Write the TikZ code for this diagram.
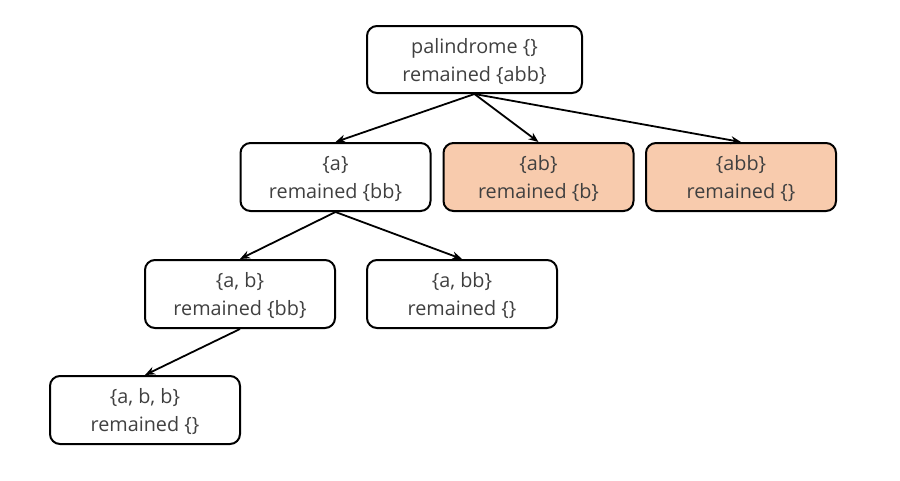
\documentclass[tikz,border=0pt]{standalone}
\usepackage{fontspec}
\setmainfont{Open Sans}
\usetikzlibrary{arrows.meta}
\definecolor{txtgray}{HTML}{404040}
\definecolor{hitfill}{HTML}{F8CBAD}
\begin{document}
\begin{tikzpicture}[x=1pt, y=-1pt,
    state/.style={draw, rounded corners=10pt, line width=2pt, minimum width=190pt, minimum height=68pt, align=center, text depth=-11pt, text=txtgray, font=\fontsize{19.8}{28}\selectfont},
    hit/.style={state, fill=hitfill},
    edge/.style={-{Stealth[length=10pt, width=8pt]}, line width=1.8pt}]
    \useasboundingbox (0,0) rectangle (900,480);
      \node (root)[state, minimum width=215pt, minimum height=67pt] at (474.5, 59.5) {palindrome \{\}\\remained \{abb\}};
      \node (a)[state] at (335.5, 177) {\{a\}\\remained \{bb\}};
      \node (ab)[hit] at (538.5, 177) {\{ab\}\\remained \{b\}};
      \node (abb)[hit] at (741, 177) {\{abb\}\\remained \{\}};
      \node (a-b)[state] at (240, 294) {\{a, b\}\\remained \{bb\}};
      \node (a-bb)[state] at (462, 294) {\{a, bb\}\\remained \{\}};
      \node (a-b-b)[state] at (145, 410) {\{a, b, b\}\\remained \{\}};
      \draw[edge] (root.south) -- (a.north);
      \draw[edge] (root.south) -- (ab.north);
      \draw[edge] (root.south) -- (abb.north);
      \draw[edge] (a.south) -- (a-b.north);
      \draw[edge] (a.south) -- (a-bb.north);
      \draw[edge] (a-b.south) -- (a-b-b.north);
    \end{tikzpicture}
\end{document}
